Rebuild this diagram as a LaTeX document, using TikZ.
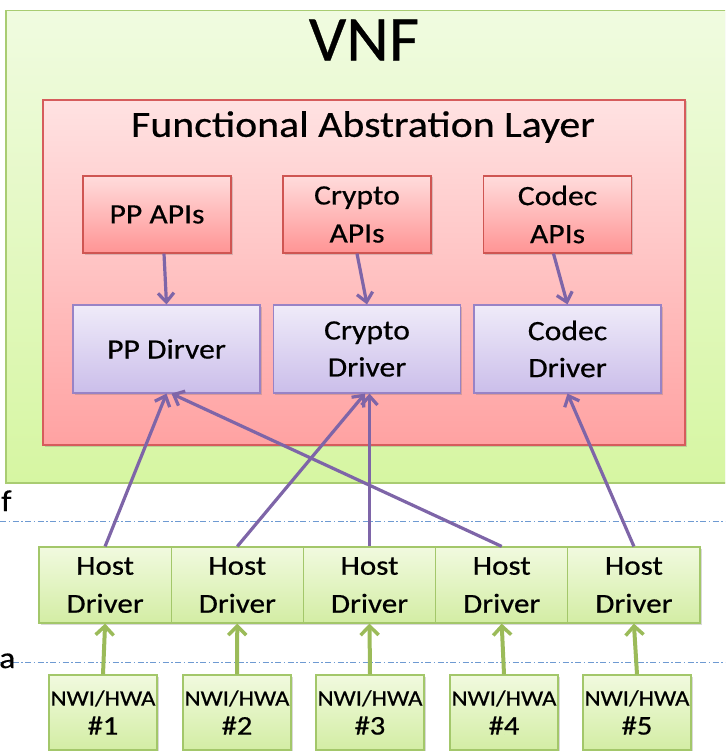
\documentclass[tikz,border=0pt]{standalone}
\usepackage{fontspec}
\setmainfont{Carlito}[FakeStretch=1.13, FakeBold=0.5]
\newfontfamily\titlefont{Carlito}[FakeStretch=1.03, FakeBold=0.5]
\usetikzlibrary{arrows.meta,shadows}

\definecolor{vnftop}{HTML}{F0FBE0}
\definecolor{vnfbot}{HTML}{D6F6A2}
\definecolor{vnfline}{HTML}{A9CC72}
\definecolor{faltop}{HTML}{FFE2E2}
\definecolor{falbot}{HTML}{FFA2A2}
\definecolor{falline}{HTML}{D65C5C}
\definecolor{apitop}{HTML}{FFDCDC}
\definecolor{apibot}{HTML}{FF9494}
\definecolor{apiline}{HTML}{CF5552}
\definecolor{drvtop}{HTML}{EFEBF9}
\definecolor{drvbot}{HTML}{CBBEEA}
\definecolor{drvline}{HTML}{9883C6}
\definecolor{hosttop}{HTML}{F1FADF}
\definecolor{hostbot}{HTML}{D3EDA4}
\definecolor{hostline}{HTML}{A3C76A}
\definecolor{purplearrow}{HTML}{7E65A8}
\definecolor{greenarrow}{HTML}{9BBB59}
\definecolor{sepline}{HTML}{6E9AD2}

\tikzset{
  softshadow/.style={drop shadow={shadow xshift=1.5pt, shadow yshift=-1.5pt, opacity=0.25, fill=black!60}},
  vnfbox/.style={draw=vnfline, line width=1.5pt, top color=vnftop, bottom color=vnfbot, softshadow},
  falbox/.style={draw=falline, line width=1.2pt, top color=faltop, bottom color=falbot, softshadow},
  apibox/.style={draw=apiline, line width=1.2pt, top color=apitop, bottom color=apibot, softshadow,
    minimum width=148pt, minimum height=77pt, inner sep=0pt, align=center,
    font=\fontsize{28}{38}\selectfont},
  drvbox/.style={draw=drvline, line width=1.2pt, top color=drvtop, bottom color=drvbot, softshadow,
    minimum width=187pt, minimum height=88pt, inner sep=0pt, align=center,
    font=\fontsize{28}{37}\selectfont},
  hostbox/.style={draw=hostline, line width=1.2pt, top color=hosttop, bottom color=hostbot, softshadow,
    minimum width=132.2pt, minimum height=76pt, inner sep=0pt, align=center,
    font=\fontsize{27.5}{38}\selectfont},
  nwibox/.style={draw=hostline, line width=1.2pt, top color=hosttop, bottom color=hostbot, softshadow,
    minimum width=108pt, minimum height=75pt, inner sep=0pt, align=center,
    font=\fontsize{22}{29}\selectfont},
  parrow/.style={draw=purplearrow, line width=3.2pt,
    -{Straight Barb[length=9pt, width=16pt, line width=3.2pt]}},
  garrow/.style={draw=greenarrow, line width=4pt,
    -{Straight Barb[length=9pt, width=18pt, line width=3.5pt]}},
  sepstyle/.style={draw=sepline, line width=1pt, dash pattern=on 6pt off 2.5pt on 1.5pt off 2.5pt},
  sidelabel/.style={font=\fontsize{30}{30}\selectfont, inner sep=0pt, anchor=base west}
}

\newcommand{\devnum}[1]{{\fontsize{27}{29}\selectfont\##1}}

\begin{document}
\begin{tikzpicture}[x=1pt, y=-1pt]
\useasboundingbox (0,0) rectangle (725,751);
\clip (0,0) rectangle (725,751);

% outer VNF container (runs past the right edge)
\node[vnfbox, anchor=north west, minimum width=745pt, minimum height=472pt, inner sep=0pt] (vnf) at (5,10) {};
\node[font=\titlefont\fontsize{64}{64}\selectfont, inner sep=0pt] (vnftitle) at (364,40) {VNF};

% functional abstraction layer
\node[falbox, minimum width=642pt, minimum height=345pt, inner sep=0pt] (fal) at (364,272.5) {};
\node[font=\fontsize{37}{37}\selectfont, inner sep=0pt] (faltitle) at (363,127) {Functional Abstration Layer};

% API boxes
\node[apibox] (ppapi) at (157,214.5) {PP APIs};
\node[apibox] (cryptoapi) at (357,214.5) {Crypto\\APIs};
\node[apibox] (codecapi) at (557.5,214.5) {Codec\\APIs};

% driver boxes
\node[drvbox] (ppdrv) at (166.5,349) {PP Dirver};
\node[drvbox] (cryptodrv) at (367,349) {Crypto\\Driver};
\node[drvbox] (codecdrv) at (567.5,349) {Codec\\Driver};

% separator lines and their labels
\coordinate (fleft) at (0,521);
\coordinate (fright) at (725,521);
\coordinate (aleft) at (0,662);
\coordinate (aright) at (725,662);
\draw[sepstyle] (fleft) -- (fright);
\draw[sepstyle] (aleft) -- (aright);
\node[sidelabel] (flabel) at (1,511) {f};
\node[sidelabel] (alabel) at (-1,668) {a};

% host drivers
\node[hostbox] (host1) at (105.1,585) {Host\\Driver};
\node[hostbox] (host2) at (237.3,585) {Host\\Driver};
\node[hostbox] (host3) at (369.5,585) {Host\\Driver};
\node[hostbox] (host4) at (501.7,585) {Host\\Driver};
\node[hostbox] (host5) at (633.9,585) {Host\\Driver};

% NWI/HWA devices
\node[nwibox] (nwi1) at (103,712.5) {NWI/HWA\\\devnum{1}};
\node[nwibox] (nwi2) at (237,712.5) {NWI/HWA\\\devnum{2}};
\node[nwibox] (nwi3) at (370,712.5) {NWI/HWA\\\devnum{3}};
\node[nwibox] (nwi4) at (504,712.5) {NWI/HWA\\\devnum{4}};
\node[nwibox] (nwi5) at (637,712.5) {NWI/HWA\\\devnum{5}};

% API -> driver
\draw[parrow] ([xshift=7pt]ppapi.south) -- (ppdrv.north);
\draw[parrow] (cryptoapi.south) -- (cryptodrv.north);
\draw[parrow] ([xshift=-4pt]codecapi.south) -- (codecdrv.north);

% host driver -> functional driver
\draw[parrow] (host1.north) -- (ppdrv.south);
\draw[parrow] (host4.north) -- ([xshift=5pt]ppdrv.south);
\draw[parrow] (host2.north) -- ([xshift=-2pt]cryptodrv.south);
\draw[parrow] (host3.north) -- (host3.north |- cryptodrv.south);
\draw[parrow] (host5.north) -- (codecdrv.south);

% device -> host driver
\foreach \i in {1,...,5}{
  \draw[garrow] (nwi\i.north) -- (host\i.south);
}
\end{tikzpicture}
\end{document}
